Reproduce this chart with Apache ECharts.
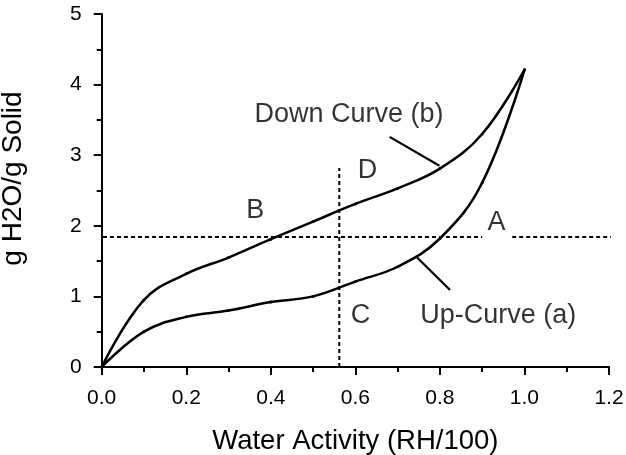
<!DOCTYPE html>
<html><head><meta charset="utf-8">
<script src="https://cdn.jsdelivr.net/npm/echarts@6/dist/echarts.min.js"></script>
<style>html,body{margin:0;padding:0;background:#fff}#c{width:626px;height:455px}</style>
</head><body><div id="c"></div>
<script>
// Data
const waterActivity = [0.0, 0.1, 0.2, 0.3, 0.4, 0.5, 0.6, 0.7, 0.8, 0.9, 1.0];
const upCurveA   = [0.0, 0.50, 0.71, 0.80, 0.92, 1.00, 1.21, 1.42, 1.82, 2.61, 4.21];
const downCurveB = [0.0, 0.95, 1.32, 1.55, 1.81, 2.06, 2.31, 2.53, 2.81, 3.30, 4.21];
const xTicks = ['0.0','0.2','0.4','0.6','0.8','1.0','1.2'];
const yTicks = ['0','1','2','3','4','5'];
const hDashLeft  = [[0.003, 1.84], [0.900, 1.84]];
const hDashRight = [[0.971, 1.84], [1.227, 1.84]];
const vDash      = [[0.562, 0.0], [0.562, 2.82]];
const leaderDown = [[0.681, 3.26], [0.799, 2.85]];
const leaderUp   = [[0.746, 1.55], [0.824, 1.09]];
const annotations = [
  [0.585, 3.58, 'Down Curve (b)'],
  [0.938, 0.733, 'Up-Curve (a)'],
  [0.363, 2.21, 'B'],
  [0.629, 2.78, 'D'],
  [0.934, 2.04, 'A'],
  [0.612, 0.733, 'C']
];

const pairs = (xs, ys) => xs.map((x, i) => [x, ys[i]]);
const FONT = 'Liberation Sans, Arial, Helvetica, sans-serif';

const chart = echarts.init(document.getElementById('c'));
const segStyle = {color: '#000', width: 2.2};
chart.setOption({
  animation: false,
  backgroundColor: '#fff',
  grid: {left: 101.7, right: 17, top: 14, bottom: 88, containLabel: false, outerBoundsMode: 'none'},
  xAxis: {
    type: 'value', min: 0, max: 1.2, interval: 0.2,
    name: 'Water Activity (RH/100)', nameLocation: 'middle', nameGap: 60,
    nameTextStyle: {fontFamily: FONT, fontSize: 27.5, color: '#000'},
    axisLine: {show: true, onZero: false, lineStyle: {color: '#000', width: 2}},
    axisTick: {show: true, inside: false, length: 8, lineStyle: {color: '#000', width: 2}},
    minorTick: {show: true, splitNumber: 2, length: 5, lineStyle: {color: '#000', width: 2}},
    splitLine: {show: false},
    axisLabel: {margin: 21, fontFamily: FONT, fontSize: 21, color: '#000',
      formatter: v => xTicks[Math.round(v / 0.2)] || ''}
  },
  yAxis: {
    type: 'value', min: 0, max: 5, interval: 1,
    name: 'g H2O/g Solid', nameLocation: 'middle', nameGap: 74, nameRotate: 90,
    nameTextStyle: {fontFamily: FONT, fontSize: 28, color: '#000', padding: [0, 0, 0, 24]},
    axisLine: {show: true, lineStyle: {color: '#000', width: 2}},
    axisTick: {show: true, inside: false, length: 8, lineStyle: {color: '#000', width: 2}},
    minorTick: {show: true, splitNumber: 2, length: 5, lineStyle: {color: '#000', width: 2}},
    splitLine: {show: false},
    axisLabel: {margin: 20, fontFamily: FONT, fontSize: 21, color: '#000',
      formatter: v => yTicks[Math.round(v)] || ''}
  },
  series: [
    {type: 'line', name: 'Up-Curve (a)', data: pairs(waterActivity, upCurveA), smooth: 0.4,
     symbol: 'circle', symbolSize: 3, itemStyle: {color: '#000'},
     lineStyle: {color: '#000', width: 2.5}, z: 5},
    {type: 'line', name: 'Down Curve (b)', data: pairs(waterActivity, downCurveB), smooth: 0.4,
     symbol: 'circle', symbolSize: 3, itemStyle: {color: '#000'},
     lineStyle: {color: '#000', width: 2.5}, z: 5},
    {type: 'line', data: hDashLeft, symbol: 'none', clip: false,
     lineStyle: {color: '#000', width: 2, type: [4, 3]}},
    {type: 'line', data: hDashRight, symbol: 'none', clip: false,
     lineStyle: {color: '#000', width: 2, type: [4, 3]}},
    {type: 'line', data: vDash, symbol: 'none', clip: false,
     lineStyle: {color: '#000', width: 2, type: [4, 3]}},
    {type: 'line', data: leaderDown, symbol: 'none', lineStyle: segStyle},
    {type: 'line', data: leaderUp, symbol: 'none', lineStyle: segStyle},
    {type: 'scatter', data: annotations, symbol: 'circle', symbolSize: 1, clip: false,
     itemStyle: {color: 'rgba(0,0,0,0)'},
     label: {show: true, position: 'inside', formatter: p => p.data[2],
       fontFamily: FONT, fontSize: 27, color: '#000', textBorderWidth: 0}}
  ]
});
</script></body></html>
